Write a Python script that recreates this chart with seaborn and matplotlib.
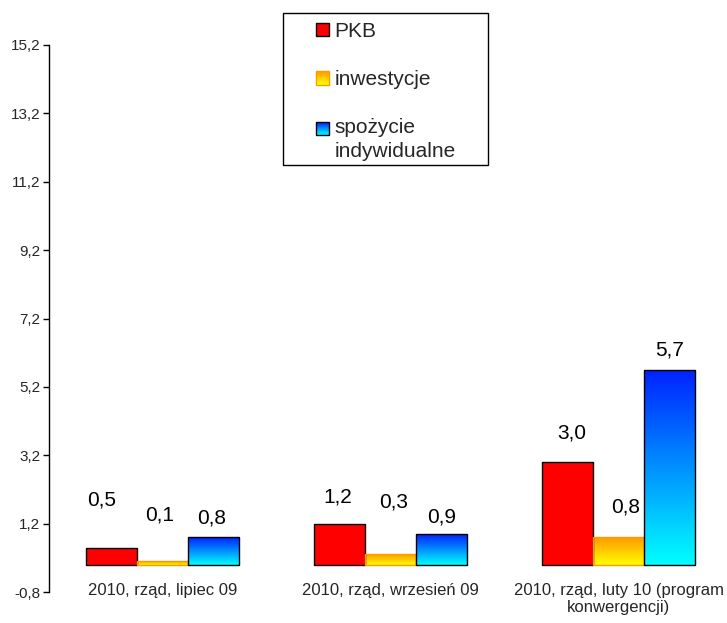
import numpy as np
import pandas as pd
import matplotlib
matplotlib.use("Agg")
import matplotlib.pyplot as plt
import seaborn as sns
from matplotlib.patches import Rectangle
from matplotlib.legend_handler import HandlerBase
from matplotlib.colors import LinearSegmentedColormap

# ---- data -----------------------------------------------------------------
categories = [
    "2010, rząd, lipiec 09",
    "2010, rząd, wrzesień 09",
    "2010, rząd, luty 10 (program\nkonwergencji)",
]
series = ["PKB", "inwestycje", "spożycie\nindywidualne"]
pkb = [0.5, 1.2, 3.0]
inwestycje = [0.1, 0.3, 0.8]
spozycie = [0.8, 0.9, 5.7]
y_ticks = [-0.8, 1.2, 3.2, 5.2, 7.2, 9.2, 11.2, 13.2, 15.2]

# ---- styling --------------------------------------------------------------
# (top colour, bottom colour, edge colour) per series
fill_style = [
    ("#ff0000", "#ff0000", "#000000"),
    ("#ff9900", "#ffff00", "#ff9900"),
    ("#0022ff", "#00ffff", "#000000"),
]
# value-label nudges in points: horizontal shift and height above bar top
label_dx = [[-7, -1, 3], [-2, 2, 5], [-1, 0, 0]]
label_dy = [[34, 19, 21], [33, 38, 22], [14, 12, 14]]

sns.set_style("white")
plt.rcParams["font.family"] = ["Liberation Sans", "DejaVu Sans"]

W, H = 727, 623
fig = plt.figure(figsize=(W / 100, H / 100), dpi=100)
ax = fig.add_axes([48.5 / W, 31 / H, 684 / W, 547 / H])

rows = []
for s, vals in zip(series, [pkb, inwestycje, spozycie]):
    for c, v in zip(categories, vals):
        rows.append({"kategoria": c, "seria": s, "wartosc": v})
df = pd.DataFrame(rows)

sns.barplot(data=df, x="kategoria", y="wartosc", hue="seria",
            order=categories, hue_order=series, width=0.67,
            saturation=1, legend=False, ax=ax)

grad = np.linspace(0, 1, 256).reshape(-1, 1)
for cont, (top, bottom, edge), dxs, dys in zip(ax.containers, fill_style,
                                               label_dx, label_dy):
    cmap = LinearSegmentedColormap.from_list("g", [bottom, top])
    for bar, dx, dy in zip(cont, dxs, dys):
        x, y0 = bar.get_x(), bar.get_y()
        w, h = bar.get_width(), bar.get_height()
        bar.set_facecolor("none")
        bar.set_edgecolor(edge)
        bar.set_linewidth(1.0)
        bar.set_zorder(3)
        im = ax.imshow(grad, cmap=cmap, extent=[x, x + w, y0, y0 + h],
                       origin="lower", aspect="auto", zorder=2,
                       interpolation="bilinear")
        im.set_clip_path(bar)
        ax.annotate(f"{h:.1f}".replace(".", ","), (x + w / 2, y0 + h),
                    xytext=(dx, dy), textcoords="offset points",
                    ha="center", va="center", fontsize=15, color="#000000")

ax.set_xlim(-0.5, 2.5)
ax.set_ylim(-0.8, 15.2)
ax.set_yticks(y_ticks)
ax.set_yticklabels([f"{t:.1f}".replace(".", ",") for t in y_ticks])
ax.set_xlabel("")
ax.set_ylabel("")
for side in ["top", "right", "bottom"]:
    ax.spines[side].set_visible(False)
ax.spines["left"].set_color("#000000")
ax.spines["left"].set_linewidth(1.0)
ax.tick_params(axis="y", length=4, width=1, color="#000000", pad=2,
               labelsize=11, left=True, direction="out")
ax.tick_params(axis="x", length=0, pad=-6.5, labelsize=12)


class GradientHandler(HandlerBase):
    def __init__(self, top, bottom, edge, lift=0.0):
        super().__init__()
        self.top, self.bottom, self.edge, self.lift = top, bottom, edge, lift

    def create_artists(self, legend, orig_handle, xdescent, ydescent,
                       width, height, fontsize, trans):
        cmap = LinearSegmentedColormap.from_list("g", [self.bottom, self.top])
        x0 = -xdescent
        y0 = -ydescent + self.lift * fontsize
        n = 24
        arts = []
        for i in range(n):
            arts.append(Rectangle((x0, y0 + height * i / n), width,
                                  height / n * 1.05,
                                  facecolor=cmap(i / (n - 1)),
                                  edgecolor="none", transform=trans))
        arts.append(Rectangle((x0, y0), width, height, facecolor="none",
                              edgecolor=self.edge, linewidth=1.0,
                              transform=trans))
        return arts


handles = [Rectangle((0, 0), 1, 1) for _ in series]
hmap = {}
for i, (hd, (top, bottom, edge)) in enumerate(zip(handles, fill_style)):
    hmap[hd] = GradientHandler(top, bottom, edge,
                               lift=0.55 if "\n" in series[i] else 0.0)

leg = fig.legend(handles, series, handler_map=hmap, loc="upper left",
                 bbox_to_anchor=(316 / W, 1 - 22 / H),
                 bbox_transform=fig.transFigure, frameon=False,
                 fontsize=15, handlelength=0.62, handleheight=0.62,
                 handletextpad=0.28, labelspacing=1.4, borderpad=0,
                 borderaxespad=0)
for t in leg.get_texts():
    t.set_linespacing(1.32)

fig.patches.append(Rectangle((283 / W, 1 - 165 / H), 205 / W, 152 / H,
                             transform=fig.transFigure, facecolor="none",
                             edgecolor="#000000", linewidth=1.0))

fig.savefig("out.png", dpi=100)
